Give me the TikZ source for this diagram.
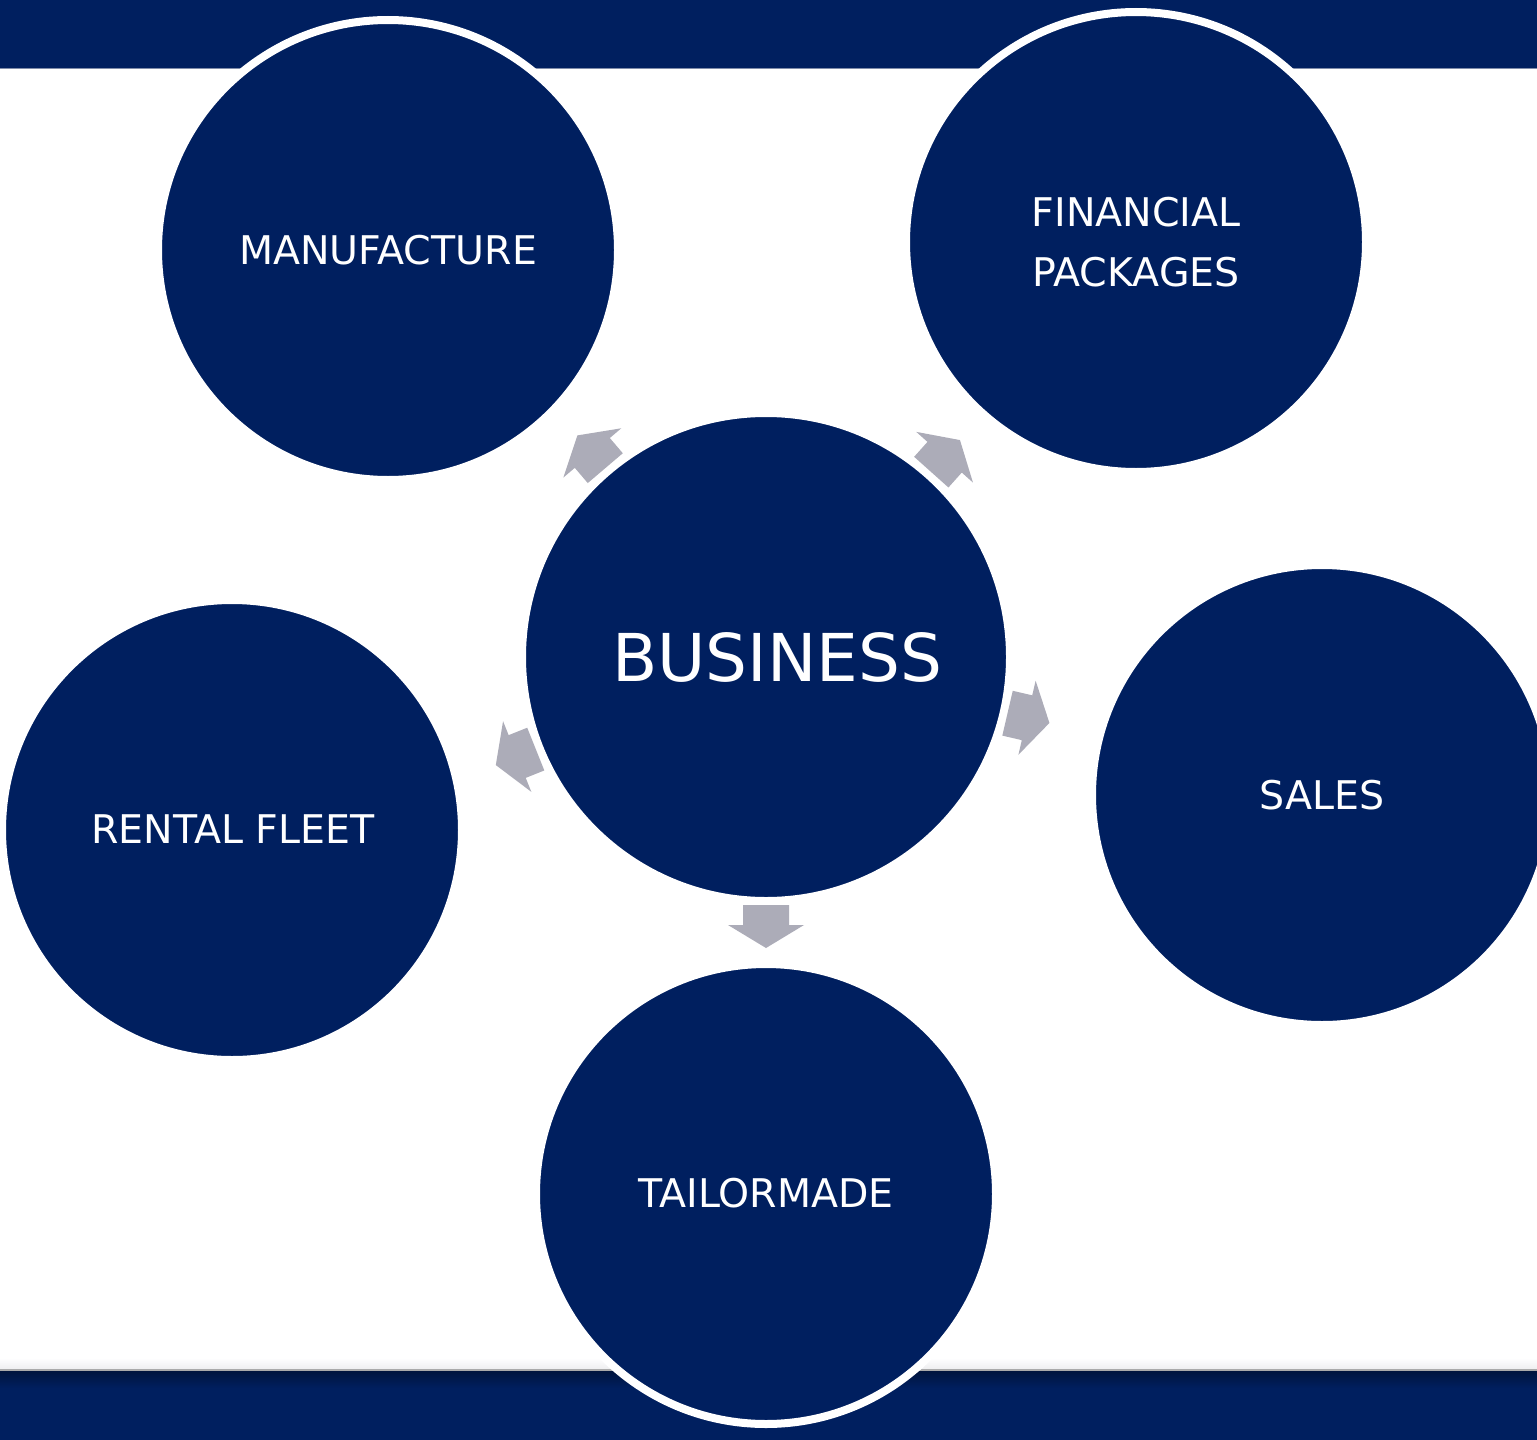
\documentclass[tikz,border=0pt]{standalone}
\usepackage{fontspec}
\setmainfont{DejaVu Sans}
\usetikzlibrary{calc}
\definecolor{navy}{RGB}{0,31,95}
\definecolor{navydark}{RGB}{0,20,62}
\definecolor{arrowgray}{RGB}{172,172,184}
\begin{document}
\begin{tikzpicture}[x=1pt,y=-1pt,
  bubble/.style={circle,fill=navy,draw=white,line width=8pt,minimum size=460pt,inner sep=0pt},
  lbl/.style={text=white,align=center,font=\fontsize{39.5}{60}\selectfont},
  bigbubble/.style={circle,fill=navy,draw=white,line width=8pt,minimum size=488pt,inner sep=0pt},
  biglbl/.style={text=white,font=\fontsize{66}{70}\selectfont}]
\useasboundingbox (0,0) rectangle (1537,1440);
\clip (0,0) rectangle (1537,1440);
% bars
\fill[white] (0,0) rectangle (1537,1440);
\fill[navy] (0,0) rectangle (1537,68);
\draw[color={rgb,255:red,128;green,140;blue,170},line width=1.2pt] (0,68.5) -- (1537,68.5);
\shade[top color=white,bottom color={rgb,255:red,238;green,238;blue,240}] (0,1358) rectangle (1537,1369);
\fill[navy] (0,1370) rectangle (1537,1440);
\shade[top color=navydark,bottom color=navy] (0,1371) rectangle (1537,1388);
\draw[color={rgb,255:red,170;green,170;blue,170},line width=1.5pt] (0,1370) -- (1537,1370);
% circles
\node[bubble] (man) at (388,250) {};
\node[bubble] (fin) at (1136,242) {};
\node[bigbubble] (bus) at (766,657) {};
\node[bubble] (sal) at (1322,795) {};
\node[bubble] (ren) at (232,830) {};
\node[bubble] (tai) at (766,1194) {};
% labels
\node[lbl] (tman) at (388,250) {MANUFACTURE};
\node[lbl] (tfin) at (1136,242) {FINANCIAL\\PACKAGES};
\node[biglbl] (tbus) at (777,657) {BUSINESS};
\node[lbl] (tsal) at (1322,795) {SALES};
\node[lbl] (tren) at (233,829) {RENTAL FLEET};
\node[lbl] (ttai) at (766,1193) {TAILORMADE};
% arrows (from bus towards each outer circle)
\foreach \t/\a in {man/130.4,fin/48.2,sal/-13.1,ren/-158.2,tai/-90}{
  \fill[arrowgray]
    ($(bus.center)+(\a:248pt)+(\a+90:23pt)$) --
    ($(bus.center)+(\a:268pt)+(\a+90:23pt)$) --
    ($(bus.center)+(\a:268pt)+(\a+90:38pt)$) --
    ($(bus.center)+(\a:291pt)$) --
    ($(bus.center)+(\a:268pt)+(\a-90:38pt)$) --
    ($(bus.center)+(\a:268pt)+(\a-90:23pt)$) --
    ($(bus.center)+(\a:248pt)+(\a-90:23pt)$) -- cycle;
}
\end{tikzpicture}
\end{document}
